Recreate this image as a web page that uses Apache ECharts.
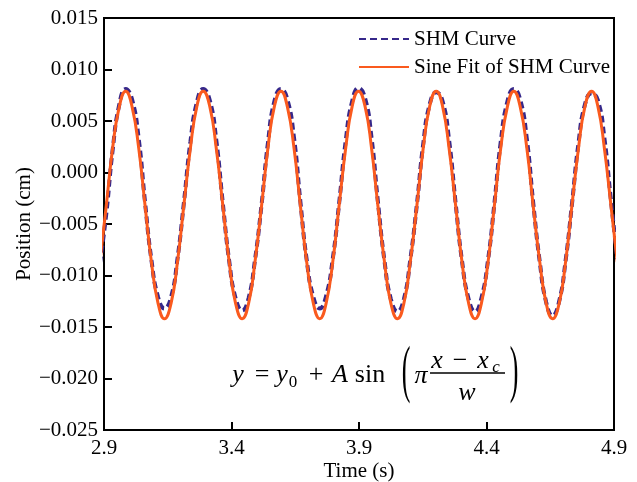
<!DOCTYPE html>
<html>
<head>
<meta charset="utf-8">
<script src="https://cdn.jsdelivr.net/npm/echarts@6/dist/echarts.min.js"></script>
<style>html,body{margin:0;padding:0;background:#fff;}#c{width:637px;height:482px;}</style>
</head>
<body>
<div id="c"></div>
<script>
// Sample times (s) (peaks/troughs and 30-degree points between)
const timeS = [2.884,2.909,2.934,2.960,2.985,3.010,3.036,3.061,3.086,3.112,3.137,3.163,3.188,3.213,3.239,3.264,
3.289,3.315,3.340,3.366,3.391,3.416,3.442,3.467,3.492,3.518,3.543,3.568,
3.594,3.619,3.645,3.670,3.695,3.721,3.746,3.771,3.797,3.822,3.848,3.873,
3.898,3.924,3.949,3.974,4.000,4.025,4.051,4.076,4.101,4.127,4.152,4.177,
4.203,4.228,4.253,4.279,4.304,4.330,4.355,4.380,4.406,4.431,4.456,4.482,
4.507,4.532,4.558,4.583,4.609,4.634,4.659,4.685,4.710,4.735,4.761,4.786,
4.812,4.837,4.862,4.888,4.913];
// SHM Curve position (cm)
const shmPos = [-0.0088,-0.0040,0.0022,0.0066,
0.0081,0.0071,0.0033,-0.0029,-0.0085,-0.0121,-0.0132,-0.0121,-0.0084,-0.0030,0.0030,0.0068,
0.0081,0.0070,0.0032,-0.0030,-0.0086,-0.0122,-0.0134,-0.0122,-0.0085,-0.0031,0.0029,0.0069,
0.0081,0.0071,0.0034,-0.0028,-0.0085,-0.0121,-0.0132,-0.0120,-0.0084,-0.0030,0.0031,0.0069,
0.0082,0.0072,0.0034,-0.0028,-0.0086,-0.0123,-0.0135,-0.0123,-0.0085,-0.0031,0.0028,0.0066,
0.0078,0.0069,0.0032,-0.0030,-0.0086,-0.0123,-0.0135,-0.0122,-0.0085,-0.0030,0.0030,0.0069,
0.0081,0.0071,0.0033,-0.0029,-0.0087,-0.0126,-0.0139,-0.0125,-0.0086,-0.0031,0.0029,0.0066,
0.0077,0.0070,0.0034,-0.0027,-0.0084];
// Sine fit of SHM curve position (cm)
const fitPos = [-0.0087,-0.0032,0.0024,0.0064,
0.0079,0.0064,0.0024,-0.0032,-0.0087,-0.0127,-0.0142,-0.0127,-0.0087,-0.0032,0.0024,0.0064,
0.0079,0.0064,0.0024,-0.0032,-0.0087,-0.0127,-0.0142,-0.0127,-0.0087,-0.0032,0.0024,0.0064,
0.0079,0.0064,0.0024,-0.0032,-0.0087,-0.0127,-0.0142,-0.0127,-0.0087,-0.0032,0.0024,0.0064,
0.0079,0.0064,0.0024,-0.0032,-0.0087,-0.0127,-0.0142,-0.0127,-0.0087,-0.0032,0.0024,0.0064,
0.0079,0.0064,0.0024,-0.0032,-0.0087,-0.0127,-0.0142,-0.0127,-0.0087,-0.0032,0.0024,0.0064,
0.0079,0.0064,0.0024,-0.0032,-0.0087,-0.0127,-0.0142,-0.0127,-0.0087,-0.0032,0.0024,0.0064,
0.0079,0.0064,0.0024,-0.0032,-0.0087];
const xTicks = [2.9, 3.4, 3.9, 4.4, 4.9];
const seriesNames = ['SHM Curve', 'Sine Fit of SHM Curve'];

const FONT = 'Liberation Serif';
const chart = echarts.init(document.getElementById('c'));
const pair = arr => timeS.map((t, i) => [t, arr[i]]);
const mathText = (txt, x, y, size, italic, sy) => ({
  type: 'text', x: x, y: y, z: 100, scaleY: sy || 1,
  style: { text: txt, fill: '#000', font: (italic ? 'italic ' : '') + size + 'px "' + FONT + '"',
           textAlign: 'center', textVerticalAlign: 'middle' }
});

chart.setOption({
  animation: false,
  backgroundColor: '#fff',
  grid: { left: 104, right: 23, top: 18, bottom: 52, outerBoundsMode: 'none', containLabel: false,
          show: true, borderColor: '#000', borderWidth: 2, backgroundColor: 'transparent' },
  legend: {
    orient: 'vertical', left: 353, top: 23, itemWidth: 50, itemHeight: 10, itemGap: 6,
    itemStyle: { opacity: 0 },
    textStyle: { fontFamily: FONT, fontSize: 21, color: '#000', lineHeight: 22 },
    data: seriesNames
  },
  xAxis: {
    type: 'value', min: 2.9, max: 4.9,
    name: 'Time (s)', nameLocation: 'middle', nameGap: 31, nameMoveOverlap: false,
    nameTextStyle: { fontFamily: FONT, fontSize: 21, color: '#000' },
    axisLine: { onZero: false, lineStyle: { color: '#000', width: 2 } },
    axisTick: { inside: true, length: 8, lineStyle: { color: '#000', width: 2 }, customValues: xTicks },
    axisLabel: { fontFamily: FONT, fontSize: 21, color: '#000', margin: 8, customValues: xTicks,
                 formatter: v => v.toFixed(1) },
    splitLine: { show: false }
  },
  yAxis: {
    type: 'value', min: -0.025, max: 0.015, interval: 0.005,
    name: 'Position (cm)', nameLocation: 'middle', nameGap: 69, nameMoveOverlap: false,
    nameTextStyle: { fontFamily: FONT, fontSize: 21, color: '#000' },
    axisLine: { show: true, onZero: false, lineStyle: { color: '#000', width: 2 } },
    axisTick: { show: true, inside: true, length: 8, lineStyle: { color: '#000', width: 2 } },
    axisLabel: { fontFamily: FONT, fontSize: 21, color: '#000', margin: 6,
                 formatter: v => (v < -1e-9 ? '\u2212' : '') + Math.abs(v).toFixed(3) },
    splitLine: { show: false }
  },
  series: [
    { name: seriesNames[0], type: 'line', data: pair(shmPos), smooth: 0.5, showSymbol: false, symbol: 'none',
      lineStyle: { color: '#36288a', width: 4, type: [7, 4] }, itemStyle: { color: '#36288a' }, z: 2 },
    { name: seriesNames[1], type: 'line', data: pair(fitPos), smooth: 0.5, showSymbol: false, symbol: 'none',
      lineStyle: { color: '#fa5a1e', width: 3 }, itemStyle: { color: '#fa5a1e' }, z: 3 }
  ],
  graphic: [
    mathText('y', 238, 375, 26, true),
    mathText('=', 262, 375, 26, false),
    mathText('y', 282, 375, 26, true),
    mathText('0', 293, 383, 17, false),
    mathText('+', 316, 375, 26, false),
    mathText('A', 340, 375, 26, true),
    mathText('sin', 370, 375, 26, false),
    mathText('(', 406, 374, 26, false, 2.4),
    mathText('\u03c0', 421, 376, 26, true),
    mathText('x', 437, 361, 26, true),
    mathText('\u2212', 460, 361, 26, false),
    mathText('x', 483, 361, 26, true),
    mathText('c', 496, 368, 17, true),
    { type: 'line', z: 100, shape: { x1: 430, y1: 373, x2: 505, y2: 373 }, style: { stroke: '#000', lineWidth: 1.5 } },
    mathText('w', 467, 393, 26, true),
    mathText(')', 514, 374, 26, false, 2.4)
  ]
});
</script>
</body>
</html>
